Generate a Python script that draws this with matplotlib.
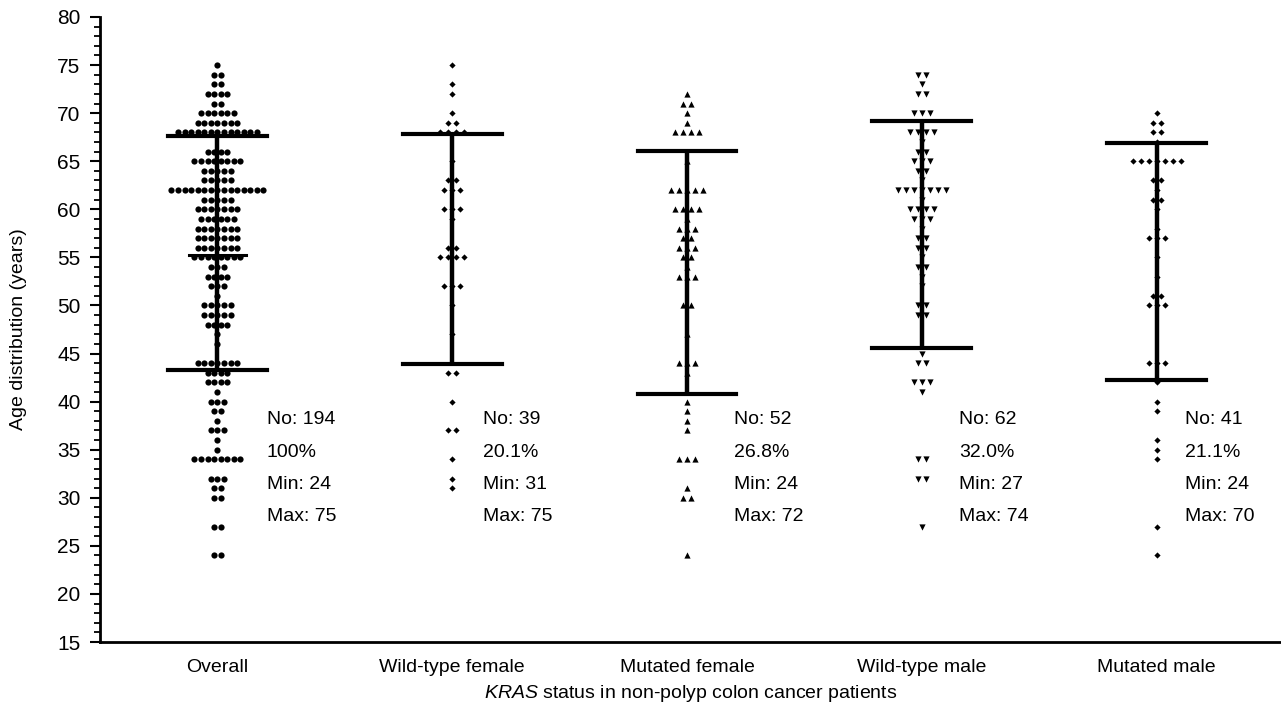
import matplotlib
matplotlib.use("Agg")
import matplotlib.pyplot as plt
import numpy as np

plt.rcParams['font.family'] = ['Liberation Sans', 'DejaVu Sans']
plt.rcParams['mathtext.fontset'] = 'custom'
plt.rcParams['mathtext.it'] = 'Liberation Sans:italic'
plt.rcParams['mathtext.rm'] = 'Liberation Sans'

groups = ['Overall', 'Wild-type female', 'Mutated female', 'Wild-type male', 'Mutated male']

# ages and how many patients share each age
overall_ages = [75, 74, 73, 72, 71, 70, 69, 68, 66, 65, 64, 63, 62, 61, 60, 59, 58, 57, 56, 55, 54, 53,
                52, 51, 50, 49, 48, 47, 46, 44, 43, 42, 41, 40, 39, 38, 37, 36, 35, 34, 32, 31, 30, 27, 24]
overall_counts = [1, 2, 2, 4, 2, 6, 7, 13, 4, 8, 5, 5, 15, 5, 7, 6, 7, 7, 7, 8, 3, 4,
                  3, 1, 5, 5, 4, 1, 1, 7, 4, 4, 1, 3, 2, 1, 3, 1, 1, 8, 3, 2, 2, 2, 2]

wt_female_ages = [75, 73, 72, 70, 69, 68, 65, 63, 62, 60, 59, 56, 55, 52, 50, 47, 43, 40, 37, 34, 32, 31]
wt_female_counts = [1, 1, 1, 1, 2, 4, 1, 2, 3, 3, 1, 2, 4, 3, 1, 1, 2, 1, 2, 1, 1, 1]

mut_female_ages = [72, 71, 70, 69, 68, 65, 62, 60, 59, 58, 57, 56, 55, 54, 53, 50, 47, 44, 43, 40, 39,
                   38, 37, 34, 31, 30, 24]
mut_female_counts = [1, 2, 1, 1, 4, 1, 5, 4, 1, 3, 2, 3, 2, 1, 3, 2, 1, 3, 1, 1, 1,
                     1, 1, 3, 1, 2, 1]

wt_male_ages = [74, 73, 72, 70, 68, 67, 66, 65, 64, 63, 62, 61, 60, 59, 58, 57, 56, 55, 54, 53, 52,
                50, 49, 45, 44, 42, 41, 34, 32, 27]
wt_male_counts = [2, 1, 2, 3, 4, 1, 2, 3, 2, 1, 7, 1, 4, 3, 1, 2, 2, 1, 2, 1, 1,
                  2, 2, 1, 2, 3, 1, 2, 2, 1]

mut_male_ages = [70, 69, 68, 67, 65, 63, 62, 61, 60, 58, 57, 55, 53, 51, 50, 44, 42, 40, 39, 36, 35,
                 34, 27, 24]
mut_male_counts = [1, 2, 2, 1, 7, 2, 1, 2, 1, 1, 3, 1, 1, 2, 3, 3, 1, 1, 1, 1, 1,
                   1, 1, 1]

# mean +/- SD bars as drawn
bar_upper = [67.6, 67.8, 66.1, 69.2, 66.9]
bar_lower = [43.3, 43.9, 40.8, 45.6, 42.2]
overall_mean = 55.3

n_patients = [194, 39, 52, 62, 41]
percents = ['100%', '20.1%', '26.8%', '32.0%', '21.1%']
min_age = [24, 31, 24, 27, 24]
max_age = [75, 75, 72, 74, 70]

series = [(overall_ages, overall_counts, 'o', 20, 0.028),
          (wt_female_ages, wt_female_counts, 'D', 10, 0.034),
          (mut_female_ages, mut_female_counts, '^', 20, 0.034),
          (wt_male_ages, wt_male_counts, 'v', 20, 0.034),
          (mut_male_ages, mut_male_counts, 'D', 10, 0.034)]

fig = plt.figure(figsize=(12.81, 7.23), dpi=100)
ax = fig.add_axes([0.0781, 0.112, 0.9219, 0.8645])

for i, (ages, counts, marker, size, dx) in enumerate(series):
    xs, ys = [], []
    for a, c in zip(ages, counts):
        for k in range(c):
            xs.append(i + (k - (c - 1) / 2) * dx)
            ys.append(a)
    ax.scatter(xs, ys, marker=marker, s=size, color='black', linewidths=0, zorder=2)

    # SD whiskers
    ax.plot([i, i], [bar_lower[i], bar_upper[i]], color='black', lw=3.2, zorder=3, solid_capstyle='butt')
    ax.plot([i - 0.21, i + 0.21], [bar_upper[i], bar_upper[i]], color='black', lw=3.0, zorder=3)
    ax.plot([i - 0.21, i + 0.21], [bar_lower[i], bar_lower[i]], color='black', lw=3.0, zorder=3)

ax.plot([-0.12, 0.12], [overall_mean, overall_mean], color='black', lw=2.2, zorder=3)

text_dx = [0.21, 0.13, 0.2, 0.16, 0.12]
for i in range(len(groups)):
    lines = ['No: %d' % n_patients[i], percents[i], 'Min: %d' % min_age[i], 'Max: %d' % max_age[i]]
    for j, t in enumerate(lines):
        ax.text(i + text_dx[i], 38.1 - j * 3.35, t, fontsize=14, va='center', ha='left')

ax.set_xlim(-0.5, 4.53)
ax.set_ylim(15, 80)
ax.set_xticks(range(len(groups)))
ax.set_xticklabels(groups, fontsize=14)
ax.set_yticks(np.arange(15, 81, 5))
ax.set_yticks(np.arange(15, 81, 1), minor=True)
ax.tick_params(axis='y', which='major', length=7, width=1.5, labelsize=15, pad=7)
ax.tick_params(axis='y', which='minor', length=4, width=1.3)
ax.tick_params(axis='x', length=0, pad=12)

ax.spines['top'].set_visible(False)
ax.spines['right'].set_visible(False)
ax.spines['left'].set_linewidth(2)
ax.spines['bottom'].set_linewidth(2)

ax.set_ylabel('Age distribution (years)', fontsize=14)
ax.yaxis.set_label_coords(-0.062, 0.5)
ax.set_xlabel(r'$\it{KRAS}$ status in non-polyp colon cancer patients', fontsize=14, labelpad=5)

fig.savefig('out.png', dpi=100)
